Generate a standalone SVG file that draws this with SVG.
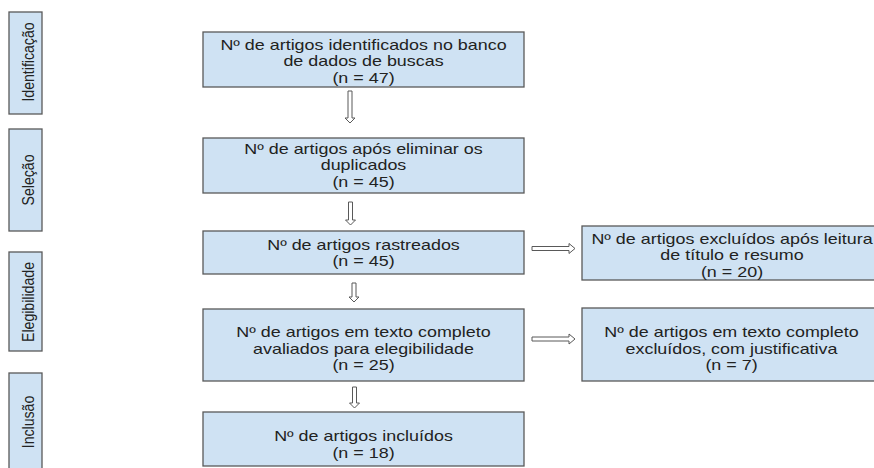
<svg xmlns="http://www.w3.org/2000/svg" width="874" height="468" viewBox="0 0 874 468">
<style>
.box{fill:#cfe2f3;stroke:#595959;stroke-width:1.3}
.t{font-family:"Liberation Sans",Arial,sans-serif;font-size:14px;fill:#222;text-anchor:middle}
.l{font-family:"Liberation Sans",Arial,sans-serif;font-size:17px;fill:#222;text-anchor:middle}
.arr{fill:#fff;stroke:#595959;stroke-width:1}
</style>
<rect width="874" height="468" fill="#fff"/>
<g id="lbl-identificacao"><rect class="box" x="9" y="12" width="33" height="102"/><text class="l" transform="translate(34,62) rotate(-90) scale(0.83,1)">Identificação</text></g>
<g id="lbl-selecao"><rect class="box" x="9" y="129" width="33" height="102"/><text class="l" transform="translate(34,180) rotate(-90) scale(0.83,1)">Seleção</text></g>
<g id="lbl-elegibilidade"><rect class="box" x="9" y="252" width="33" height="99"/><text class="l" transform="translate(34,302) rotate(-90) scale(0.83,1)">Elegibilidade</text></g>
<g id="lbl-inclusao"><rect class="box" x="9" y="373" width="33" height="100"/><text class="l" transform="translate(34,422) rotate(-90) scale(0.83,1)">Inclusão</text></g>

<g id="n1"><rect class="box" x="203" y="32" width="321" height="55"/>
<text class="t" transform="translate(363.5,49.5) scale(1.28,1)">Nº de artigos identificados no banco</text>
<text class="t" transform="translate(363.5,66) scale(1.28,1)">de dados de buscas</text>
<text class="t" transform="translate(363.5,82.5) scale(1.28,1)">(n = 47)</text></g>
<g id="n2"><rect class="box" x="203" y="138" width="321" height="55"/>
<text class="t" transform="translate(363.5,153.5) scale(1.28,1)">Nº de artigos após eliminar os</text>
<text class="t" transform="translate(363.5,170) scale(1.28,1)">duplicados</text>
<text class="t" transform="translate(363.5,186.5) scale(1.28,1)">(n = 45)</text></g>
<g id="n3"><rect class="box" x="203" y="231" width="321" height="43"/>
<text class="t" transform="translate(363.5,249.5) scale(1.28,1)">Nº de artigos rastreados</text>
<text class="t" transform="translate(363.5,266) scale(1.28,1)">(n = 45)</text></g>
<g id="n4"><rect class="box" x="203" y="309" width="321" height="72"/>
<text class="t" transform="translate(363.5,337) scale(1.28,1)">Nº de artigos em texto completo</text>
<text class="t" transform="translate(363.5,353.5) scale(1.28,1)">avaliados para elegibilidade</text>
<text class="t" transform="translate(363.5,370) scale(1.28,1)">(n = 25)</text></g>
<g id="n5"><rect class="box" x="203" y="412" width="321" height="54"/>
<text class="t" transform="translate(363.5,441) scale(1.28,1)">Nº de artigos incluídos</text>
<text class="t" transform="translate(363.5,457.5) scale(1.28,1)">(n = 18)</text></g>
<g id="r1"><rect class="box" x="582" y="226" width="300" height="54"/>
<text class="t" transform="translate(732,243.5) scale(1.28,1)">Nº de artigos excluídos após leitura</text>
<text class="t" transform="translate(732,260) scale(1.28,1)">de título e resumo</text>
<text class="t" transform="translate(732,276.5) scale(1.28,1)">(n = 20)</text></g>
<g id="r2"><rect class="box" x="582" y="308" width="299" height="73"/>
<text class="t" transform="translate(731.5,337) scale(1.28,1)">Nº de artigos em texto completo</text>
<text class="t" transform="translate(731.5,353.5) scale(1.28,1)">excluídos, com justificativa</text>
<text class="t" transform="translate(731.5,370) scale(1.28,1)">(n = 7)</text></g>

<g id="connectors">
<path class="arr" d="M348,91 H352 V118 H355 L350,123 L345,118 H348 Z"/>
<path class="arr" d="M348.5,202 H352.5 V220 H355.5 L350.5,225 L345.5,220 H348.5 Z"/>
<path class="arr" d="M352,283 H356 V297 H359 L354,302 L349,297 H352 Z"/>
<path class="arr" d="M352.5,387 H356.5 V403 H359.5 L354.5,408 L349.5,403 H352.5 Z"/>
<path class="arr" d="M532,246.5 V250.5 H569 V253.5 L575,248.5 L569,243.5 V246.5 Z"/>
<path class="arr" d="M532,337 V341 H569 V344 L575,339 L569,334 V337 Z"/>
</g>
</svg>
